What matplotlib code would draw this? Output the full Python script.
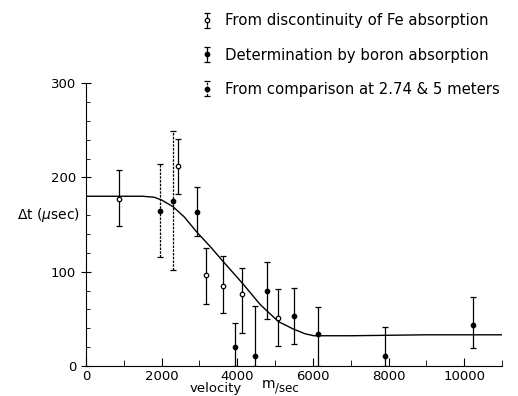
import numpy as np
import matplotlib.pyplot as plt
from matplotlib.ticker import MultipleLocator

# open circles: from discontinuity of Fe absorption
fe_v = [880, 2430, 3170, 3630, 4130, 5090]
fe_t = [177, 212, 96, 85, 76, 51]
fe_lo = [148, 182, 66, 56, 35, 21]
fe_hi = [208, 241, 125, 117, 104, 82]

# filled dots: determination by boron absorption
b_v = [2930, 3940, 4460, 4800, 5490, 6130, 7920, 10240]
b_t = [163, 20, 10, 80, 53, 34, 11, 43]
b_lo = [138, 0, 0, 50, 23, 0, 0, 19]
b_hi = [190, 46, 64, 110, 83, 62, 41, 73]

# filled dots, dotted bars: comparison at 2.74 & 5 m
c_v = [1970, 2290]
c_t = [164, 175]
c_lo = [116, 102]
c_hi = [214, 249]

# fitted curve
curve_v = [0, 1000, 1500, 1800, 2000, 2300, 2600, 2930, 3300, 3600, 4130,
           4610, 5090, 5490, 5800, 6030, 7000, 9000, 11000]
curve_t = [180, 180, 180, 179, 176, 169, 158, 142, 126, 112, 88,
           65, 47, 39, 34, 32, 32, 33, 33]

plt.rcParams['font.family'] = 'DejaVu Sans'

fig = plt.figure(figsize=(5.18, 3.96), dpi=100)
ax = fig.add_axes([0.166, 0.076, 0.803, 0.714])


def bars(v, t, lo, hi, face, ls='-', label=None):
    t = np.array(t)
    err = [t - np.array(lo), np.array(hi) - t]
    _, caps, lines = ax.errorbar(v, t, yerr=err, fmt='o', ms=3.2, mfc=face, mec='black',
                                 mew=0.9, ecolor='black', elinewidth=0.9, capsize=2.2,
                                 capthick=0.9, label=label)
    for l in lines:
        l.set_linestyle(ls)


bars(fe_v, fe_t, fe_lo, fe_hi, 'white', label='From discontinuity of Fe absorption')
bars(b_v, b_t, b_lo, b_hi, 'black', label='Determination by boron absorption')
bars(c_v, c_t, c_lo, c_hi, 'black', ls=(0, (2, 1)), label='From comparison at 2.74 & 5 meters')

ax.plot(curve_v, curve_t, color='black', lw=1.0)

ax.set_xlim(0, 11000)
ax.set_ylim(0, 300)
ax.spines['top'].set_visible(False)
ax.spines['right'].set_visible(False)
ax.xaxis.set_major_locator(MultipleLocator(2000))
ax.xaxis.set_minor_locator(MultipleLocator(1000))
ax.yaxis.set_major_locator(MultipleLocator(100))
ax.yaxis.set_minor_locator(MultipleLocator(20))
ax.tick_params(axis='x', which='major', direction='in', length=6, labelsize=9.5, pad=3)
ax.tick_params(axis='x', which='minor', direction='in', length=4)
ax.tick_params(axis='y', which='major', direction='inout', length=7, labelsize=9.5)
ax.tick_params(axis='y', which='minor', direction='in', length=3)

ax.text(-0.165, 0.52, r'$\Delta$t ($\mu$sec)', transform=ax.transAxes, fontsize=10)
# axis title sits right on the bottom edge
fig.text(0.366, 0.003, 'velocity', fontsize=9.5, va='bottom')
fig.text(0.505, 0.012, 'm', fontsize=10, va='bottom')
fig.text(0.53, 0.003, '/sec', fontsize=8.5, va='bottom')

fig.legend(loc='upper left', bbox_to_anchor=(0.365, 1.0), frameon=False, fontsize=10.7,
           handlelength=0.6, handletextpad=0.9, labelspacing=1.3)

fig.savefig('out.png', dpi=100)
